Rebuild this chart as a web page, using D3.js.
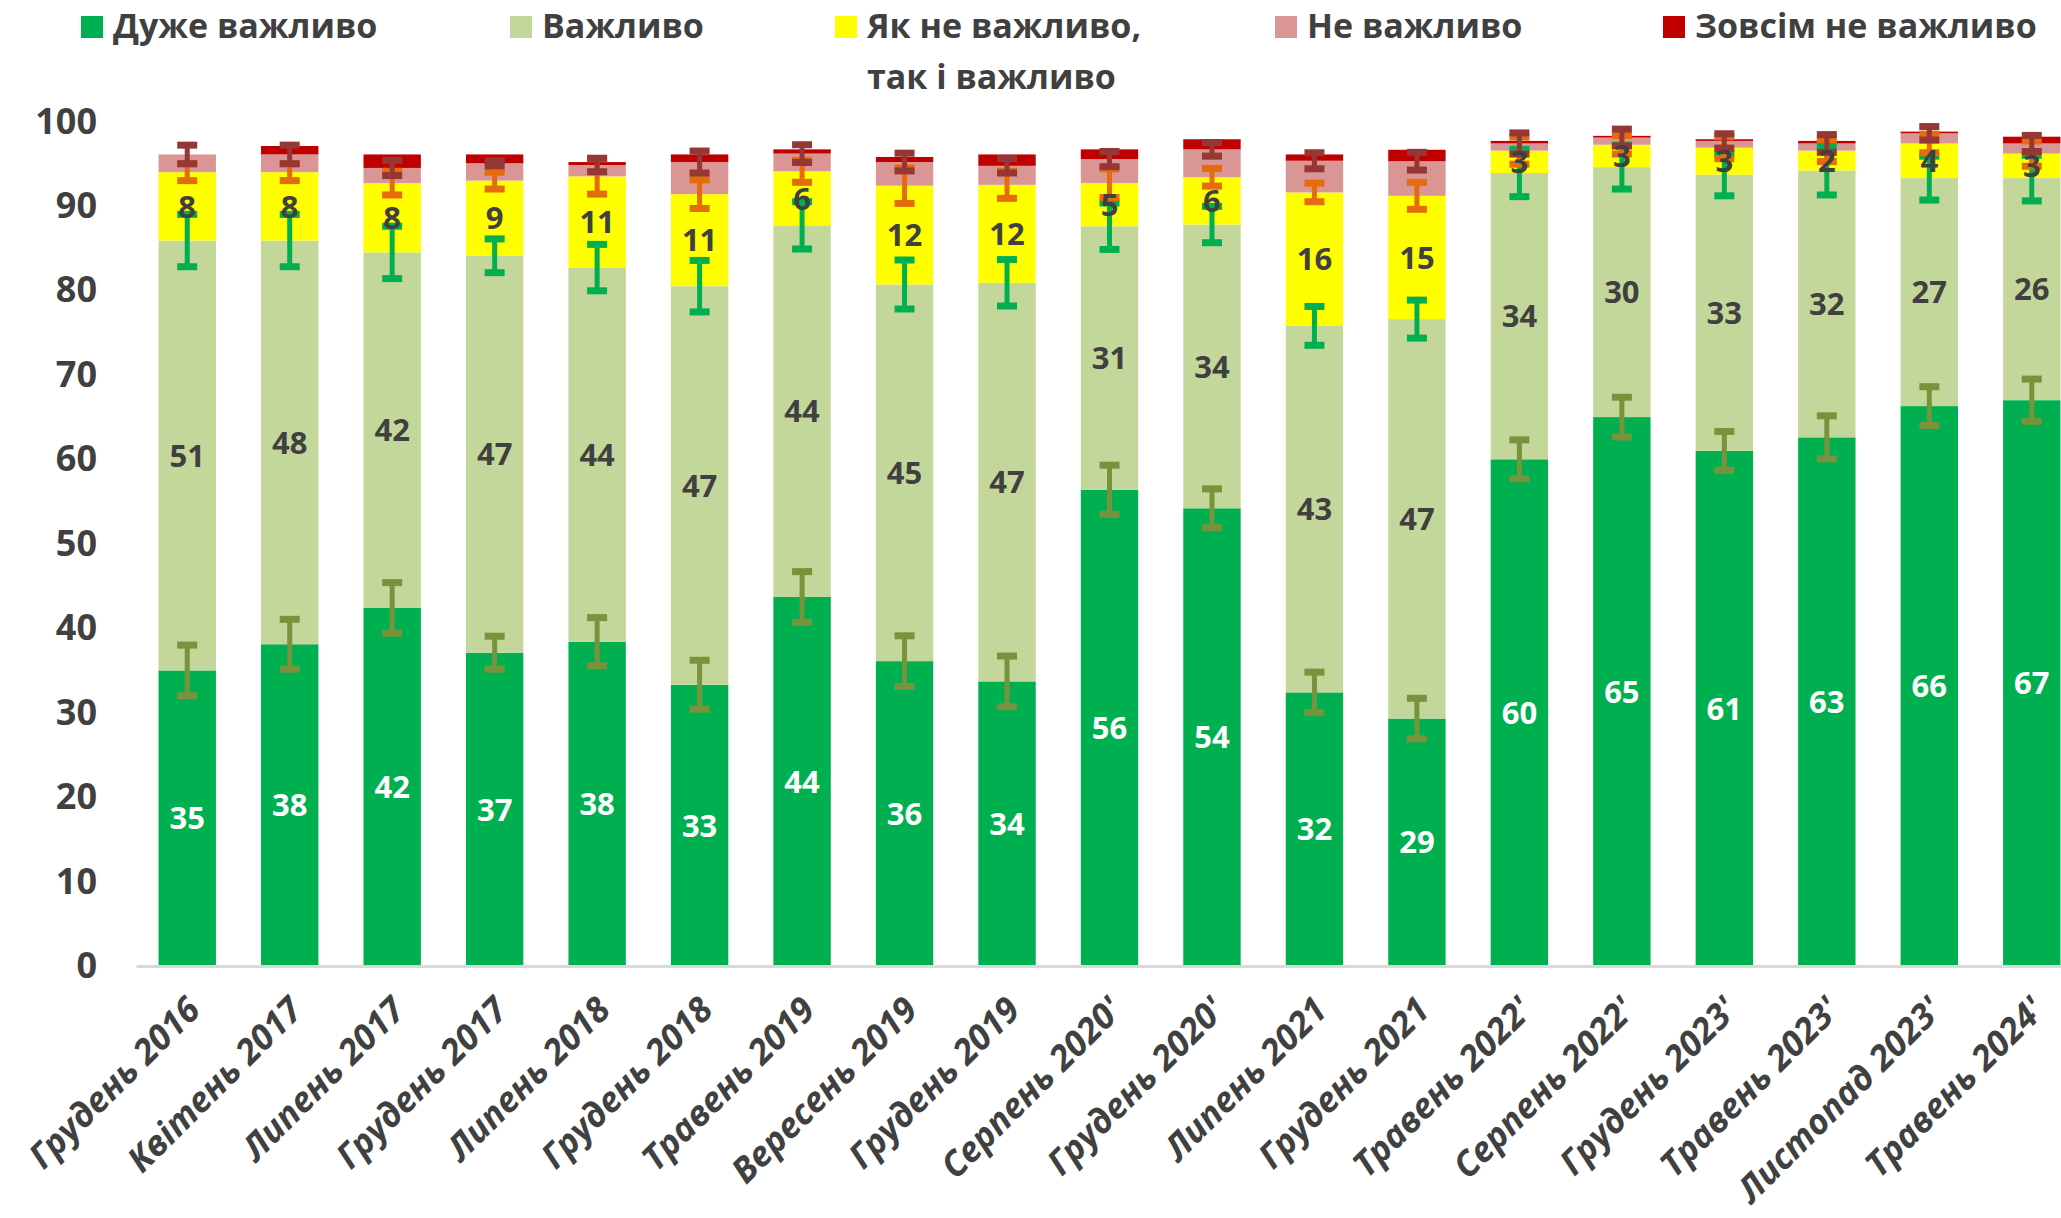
<!DOCTYPE html>
<html>
<head>
<meta charset="utf-8">
<script src="https://cdn.jsdelivr.net/npm/d3@7"></script>
<style>
  body { margin: 0; background: #fff; }
  text { font-family: "Open Sans", "Noto Sans", sans-serif; }
</style>
</head>
<body>
<script>
// категорії (хвилі опитування)
const categories = ['Грудень 2016', 'Квітень 2017', 'Липень 2017', 'Грудень 2017', 'Липень 2018',
  'Грудень 2018', 'Травень 2019', 'Вересень 2019', 'Грудень 2019', "Серпень 2020'", "Грудень 2020'",
  'Липень 2021', 'Грудень 2021', "Травень 2022'", "Серпень 2022'", "Грудень 2023'", "Травень 2023'",
  "Листопад 2023'", "Травень 2024'"];

const seriesNames = ['Дуже важливо', 'Важливо', 'Як не важливо, так і важливо', 'Не важливо', 'Зовсім не важливо'];

// значення сегментів, %
const veryImportant = [35.0, 38.1, 42.4, 37.1, 38.4, 33.3, 43.7, 36.1, 33.7, 56.4, 54.2, 32.4, 29.3, 60.0, 65.0, 61.0, 62.6, 66.3, 67.0];
const important = [50.9, 47.8, 42.1, 47.0, 44.3, 47.2, 44.0, 44.6, 47.2, 31.2, 33.6, 43.4, 47.3, 33.9, 29.6, 32.7, 31.6, 27.0, 26.3];
const neutral = [8.1, 8.1, 8.2, 8.9, 10.8, 10.9, 6.4, 11.7, 11.6, 5.1, 5.6, 15.8, 14.6, 2.65, 2.65, 3.2, 2.35, 4.1, 2.9];
const notImportant = [2.1, 2.1, 1.8, 2.05, 1.35, 3.8, 2.1, 2.8, 2.25, 2.85, 3.3, 3.75, 4.1, 0.85, 0.85, 0.8, 0.85, 1.2, 1.2];
const notAtAll = [0, 1.0, 1.6, 1.05, 0.35, 0.9, 0.5, 0.6, 1.35, 1.15, 1.2, 0.75, 1.35, 0.3, 0.2, 0.2, 0.3, 0.2, 0.8];

// похибки (±) для перших чотирьох рядів
const errVery = [3.0, 2.95, 3.0, 1.95, 2.85, 2.9, 3.0, 3.0, 3.0, 2.9, 2.3, 2.4, 2.4, 2.3, 2.35, 2.3, 2.55, 2.3, 2.5];
const errImportant = [3.1, 3.1, 3.1, 2.0, 2.75, 3.05, 2.8, 2.9, 2.75, 2.75, 2.15, 2.3, 2.25, 2.8, 2.6, 2.5, 2.9, 2.6, 2.7];
const errNeutral = [1.0, 1.0, 1.4, 1.0, 2.1, 1.7, 1.3, 2.1, 1.6, 1.7, 1.05, 1.1, 1.6, 1.6, 1.1, 1.3, 1.3, 1.1, 1.5];
const errNot = [1.1, 1.1, 0.9, 0.3, 0.8, 1.3, 1.05, 1.05, 0.85, 0.9, 0.8, 0.95, 1.05, 1.25, 1.0, 0.85, 1.05, 0.8, 0.95];

const yTicks = [0, 10, 20, 30, 40, 50, 60, 70, 80, 90, 100];

const colors = ['#00B050', '#C4D79B', '#FFFF00', '#DA9694', '#C00000'];
const errColors = ['#77933C', '#00B050', '#E46C0A', '#953735'];
const labelColors = ['#FFFFFF', '#404040', '#404040', null, null];

const width = 2061;
const height = 1218;

const svg = d3.select('body').append('svg')
  .attr('width', width)
  .attr('height', height);

const keys = ['s0', 's1', 's2', 's3', 's4'];
const rows = categories.map((c, i) => ({
  cat: c, s0: veryImportant[i], s1: important[i], s2: neutral[i], s3: notImportant[i], s4: notAtAll[i]
}));
const errs = [errVery, errImportant, errNeutral, errNot];

const stacked = d3.stack().keys(keys)(rows);

const x = d3.scaleBand()
  .domain(categories)
  .range([136, 2083])
  .paddingInner(0.44)
  .paddingOuter(0.22);

const y = d3.scaleLinear().domain([0, 100]).range([966, 121.5]);

// y axis (тільки підписи)
const yAxis = svg.append('g')
  .attr('transform', 'translate(136,0)')
  .call(d3.axisLeft(y).tickValues(yTicks).tickSize(0).tickPadding(39));
yAxis.select('.domain').remove();
yAxis.selectAll('text')
  .attr('fill', '#404040')
  .style('font-size', '36px')
  .style('font-weight', 'bold');

// bars
const layer = svg.append('g');
stacked.forEach((s, k) => {
  layer.append('g')
    .attr('fill', colors[k])
    .selectAll('rect')
    .data(s)
    .join('rect')
    .attr('x', d => x(d.data.cat))
    .attr('width', x.bandwidth())
    .attr('y', d => y(d[1]))
    .attr('height', d => y(d[0]) - y(d[1]));
});

// x axis
const xAxis = svg.append('g')
  .attr('transform', 'translate(0,966)')
  .call(d3.axisBottom(x).tickSize(0).tickSizeOuter(0));
xAxis.select('.domain')
  .attr('stroke', '#D9D9D9')
  .attr('stroke-width', 3);
xAxis.selectAll('text')
  .attr('y', 0)
  .attr('dy', 0)
  .attr('text-anchor', 'end')
  .attr('transform', 'translate(15,46) rotate(-45)')
  .attr('fill', '#404040')
  .style('font-size', '35px')
  .style('font-weight', 'bold')
  .style('font-style', 'italic');

// error bars
const capW = 20;
const errLayer = svg.append('g');
stacked.slice(0, 4).forEach((s, k) => {
  const g = errLayer.append('g').attr('stroke', errColors[k]);
  s.forEach((d, i) => {
    const cx = x(d.data.cat) + x.bandwidth() / 2;
    const e = errs[k][i];
    const yHi = y(d[1] + e);
    const yLo = y(d[1] - e);
    g.append('line')
      .attr('x1', cx).attr('x2', cx)
      .attr('y1', yHi).attr('y2', yLo)
      .attr('stroke-width', 5);
    [yHi, yLo].forEach(yy => {
      g.append('line')
        .attr('x1', cx - capW / 2).attr('x2', cx + capW / 2)
        .attr('y1', yy).attr('y2', yy)
        .attr('stroke-width', 7);
    });
  });
});

// data labels
const labLayer = svg.append('g');
stacked.slice(0, 3).forEach((s, k) => {
  labLayer.append('g')
    .selectAll('text')
    .data(s)
    .join('text')
    .attr('x', d => x(d.data.cat) + x.bandwidth() / 2)
    .attr('y', d => y((d[0] + d[1]) / 2))
    .attr('dy', '0.36em')
    .attr('text-anchor', 'middle')
    .attr('fill', labelColors[k])
    .style('font-size', '31px')
    .style('font-weight', 'bold')
    .text(d => Math.round(d[1] - d[0]));
});

// legend
const legendX = [81, 510, 835, 1275, 1663];
const legend = svg.append('g');
seriesNames.forEach((name, k) => {
  const g = legend.append('g').attr('transform', `translate(${legendX[k]},0)`);
  g.append('rect')
    .attr('x', 0).attr('y', 16)
    .attr('width', 22).attr('height', 22)
    .attr('fill', colors[k]);
  const lines = k === 2 ? ['Як не важливо,', 'так і важливо'] : [name];
  lines.forEach((ln, j) => {
    g.append('text')
      .attr('x', 32)
      .attr('y', 38 + j * 51)
      .attr('fill', '#404040')
      .style('font-size', '34px')
      .style('font-weight', 'bold')
      .text(ln);
  });
});
</script>
</body>
</html>
